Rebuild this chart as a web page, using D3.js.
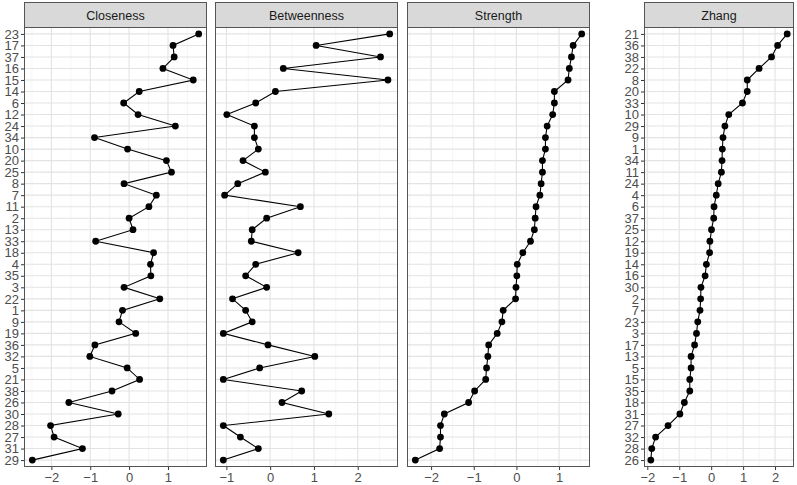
<!DOCTYPE html>
<html><head><meta charset="utf-8">
<script src="https://cdn.jsdelivr.net/npm/d3@7"></script>
<style>
body{margin:0;background:#fff;}
svg{display:block;font-family:"Liberation Sans",Arial,sans-serif;}
</style></head>
<body><svg id="c" width="797" height="485"></svg>
<script>
// Shared node order (top to bottom) for the first three panels
const nodes = ["23","17","37","16","15","14","6","12","24","34","10","20","25","8","7","11","2","13","33","18","4","35","3","22","1","9","19","36","32","5","21","38","26","30","28","27","31","29"];
const closeness = [1.79,1.13,1.16,0.87,1.65,0.26,-0.14,0.23,1.19,-0.89,-0.04,0.96,1.09,-0.13,0.70,0.51,0.00,0.10,-0.86,0.63,0.55,0.56,-0.13,0.79,-0.17,-0.26,0.17,-0.88,-1.01,-0.05,0.27,-0.44,-1.55,-0.28,-2.02,-1.93,-1.20,-2.49];
const betweenness = [2.73,1.05,2.52,0.30,2.69,0.12,-0.33,-0.99,-0.36,-0.36,-0.27,-0.62,-0.11,-0.74,-1.04,0.69,-0.08,-0.41,-0.43,0.64,-0.33,-0.56,-0.08,-0.86,-0.56,-0.41,-1.07,-0.05,1.02,-0.24,-1.07,0.72,0.27,1.34,-1.07,-0.68,-0.27,-1.07];
const strength = [1.53,1.33,1.29,1.24,1.21,0.89,0.89,0.85,0.72,0.68,0.68,0.61,0.61,0.58,0.55,0.46,0.44,0.42,0.33,0.15,0.02,0.01,-0.01,-0.02,-0.31,-0.34,-0.45,-0.65,-0.67,-0.70,-0.72,-0.98,-1.12,-1.69,-1.78,-1.78,-1.80,-2.37];
// Zhang panel has its own order
const zhangNodes = ["21","36","38","22","8","20","33","10","29","9","1","34","11","24","4","6","37","25","12","19","14","16","30","2","7","23","3","17","13","5","15","35","18","31","27","32","28","26"];
const zhang = [2.38,2.08,1.89,1.50,1.13,1.13,0.98,0.55,0.43,0.37,0.35,0.34,0.32,0.22,0.16,0.09,0.08,0.01,-0.04,-0.05,-0.15,-0.19,-0.32,-0.33,-0.35,-0.42,-0.46,-0.52,-0.63,-0.63,-0.67,-0.67,-0.84,-0.98,-1.35,-1.74,-1.86,-1.89];

const titles = ["Closeness","Betweenness","Strength","Zhang"];
const ticks1 = [-2,-1,0,1];
const ticks2 = [-1,0,1,2];
const ticks3 = [-2,-1,0,1];
const ticks4 = [-2,-1,0,1,2];

const svg = d3.select("#c");
const plotTop = 27, plotBottom = 467, stripTop = 2;

const panels = [
  {title:titles[0], cats:nodes, vals:closeness, ticks:ticks1, x0:24, x1:207, yaxis:true},
  {title:titles[1], cats:nodes, vals:betweenness, ticks:ticks2, x0:215, x1:398, yaxis:false},
  {title:titles[2], cats:nodes, vals:strength, ticks:ticks3, x0:407, x1:590, yaxis:false},
  {title:titles[3], cats:zhangNodes, vals:zhang, ticks:ticks4, x0:644, x1:794, yaxis:true}
];

panels.forEach(p => {
  const ext = d3.extent(p.vals);
  const pad = (ext[1]-ext[0])*0.05;
  const x = d3.scaleLinear().domain([ext[0]-pad, ext[1]+pad]).range([p.x0, p.x1]);
  const y = d3.scalePoint().domain(p.cats).range([plotTop, plotBottom]).padding(0.6);
  const g = svg.append("g");
  g.append("rect").attr("x",p.x0).attr("y",plotTop).attr("width",p.x1-p.x0).attr("height",plotBottom-plotTop).attr("fill","#fff");
  const dom = x.domain();
  const minors = [];
  for (let v = Math.ceil(dom[0]*2)/2; v <= dom[1]; v += 0.5) {
    if (Math.abs(v - Math.round(v)) > 1e-9) minors.push(v);
  }
  g.selectAll(".minor").data(minors).join("line")
    .attr("x1",d=>x(d)).attr("x2",d=>x(d)).attr("y1",plotTop).attr("y2",plotBottom)
    .attr("stroke","#efefef").attr("stroke-width",0.6);
  g.selectAll(".vmaj").data(p.ticks).join("line")
    .attr("x1",d=>x(d)).attr("x2",d=>x(d)).attr("y1",plotTop).attr("y2",plotBottom)
    .attr("stroke","#e3e3e3").attr("stroke-width",1.1);
  g.selectAll(".hmaj").data(p.cats).join("line")
    .attr("x1",p.x0).attr("x2",p.x1).attr("y1",d=>y(d)).attr("y2",d=>y(d))
    .attr("stroke","#e3e3e3").attr("stroke-width",1.1);
  const pts = p.cats.map((c,i)=>({c, v:p.vals[i]}));
  g.append("path").datum(pts)
    .attr("d", d3.line().x(d=>x(d.v)).y(d=>y(d.c)))
    .attr("fill","none").attr("stroke","#000").attr("stroke-width",1.1);
  g.selectAll(".pt").data(pts).join("circle")
    .attr("cx",d=>x(d.v)).attr("cy",d=>y(d.c)).attr("r",3.4).attr("fill","#000");
  g.append("rect").attr("x",p.x0+0.5).attr("y",plotTop+0.5).attr("width",p.x1-p.x0-1).attr("height",plotBottom-plotTop-1)
    .attr("fill","none").attr("stroke","#555").attr("stroke-width",1);
  g.append("rect").attr("x",p.x0+0.5).attr("y",stripTop+0.5).attr("width",p.x1-p.x0-1).attr("height",plotTop-stripTop)
    .attr("fill","#d9d9d9").attr("stroke","#555").attr("stroke-width",1);
  g.append("text").attr("x",(p.x0+p.x1)/2).attr("y",(stripTop+plotTop)/2+1).attr("dy","0.35em")
    .attr("text-anchor","middle").attr("font-size",12.5).attr("fill","#1a1a1a").text(p.title);
  const xa = svg.append("g").attr("transform",`translate(0,${plotBottom})`)
    .call(d3.axisBottom(x).tickValues(p.ticks).tickSize(3).tickPadding(3).tickFormat(d=>d<0?"\u2212"+Math.abs(d):d));
  xa.select(".domain").remove();
  xa.selectAll("line").attr("stroke","#333");
  xa.selectAll("text").attr("font-size",13).attr("fill","#4d4d4d").attr("font-family","Liberation Sans, Arial, sans-serif");
  if (p.yaxis) {
    const ya = svg.append("g").attr("transform",`translate(${p.x0},0)`)
      .call(d3.axisLeft(y).tickSize(3).tickPadding(2));
    ya.select(".domain").remove();
    ya.selectAll("line").attr("stroke","#333");
    ya.selectAll("text").attr("font-size",13).attr("fill","#4d4d4d").attr("font-family","Liberation Sans, Arial, sans-serif");
  }
});
</script></body></html>
